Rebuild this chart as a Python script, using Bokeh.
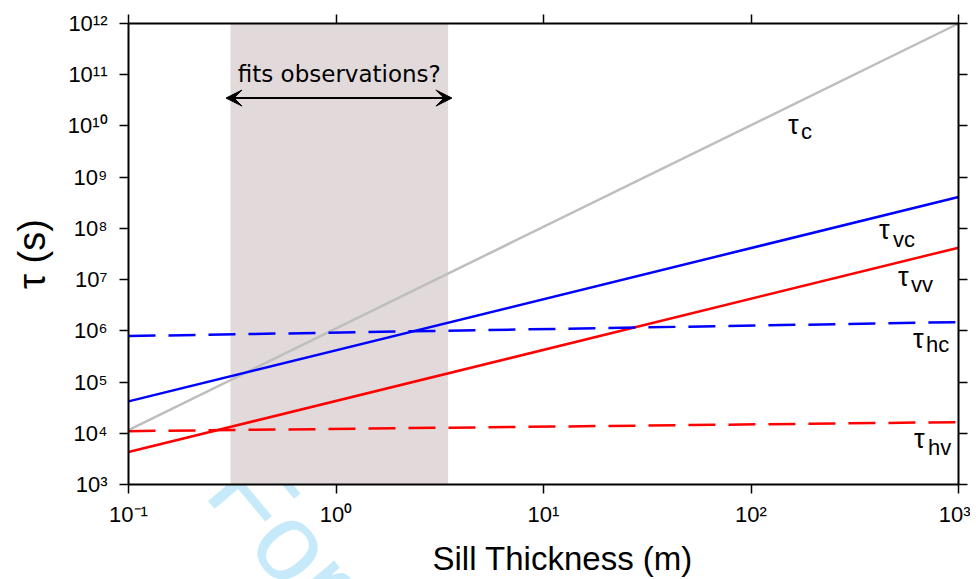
import numpy as np
from bokeh.plotting import figure
from bokeh.models import (LogAxis, FixedTicker, CustomJSTickFormatter, Label, Title,
                          BoxAnnotation, Arrow, VeeHead, Range1d)
from bokeh.embed import file_html
from bokeh.resources import INLINE

# ---------------- data ----------------
x_ends = [0.1, 1000.0]
tau_c = [1.15e4, 1.0e12]
tau_vc = [4.2e4, 4.1e8]
tau_vv = [4.3e3, 4.2e7]
tau_hc = [7.9e5, 1.48e6]
tau_hv = [1.1e4, 1.65e4]

x_ticks = [0.1, 1.0, 10.0, 100.0, 1000.0]
y_ticks = [1e3, 1e4, 1e5, 1e6, 1e7, 1e8, 1e9, 1e10, 1e11, 1e12]

shade_x = [0.31, 3.47]          # "fits observations?" band
arrow_x = [0.295, 3.62]
arrow_y = 3.5e10
note_y = 1.04e11

# curve labels: tau position and subscript position (data coords)
lab_names = ["c", "vc", "vv", "hc", "hv"]
lab_tau_x = [150.7, 413.9, 510.9, 603.5, 610.3]
lab_tau_y = [1.05e10, 9.3e7, 1.12e7, 6.9e5, 7.7e3]
lab_sub_x = [174.1, 483.5, 590.3, 697.2, 712.9]
lab_sub_y = [7.65e9, 6.2e7, 7.85e6, 5.3e5, 5.35e3]

FONT = "Liberation Sans"

p = figure(x_axis_type="log", y_axis_type="log",
           x_range=Range1d(x_ticks[0], x_ticks[-1]),
           y_range=Range1d(y_ticks[0], y_ticks[-1]),
           frame_width=830, frame_height=461,
           min_border_left=128, min_border_right=12,
           min_border_top=23, min_border_bottom=95,
           output_backend="svg", toolbar_location=None, tools="")
p.xgrid.visible = False
p.ygrid.visible = False
p.outline_line_color = None
p.background_fill_color = "white"
p.border_fill_color = "white"

sup_js = """
const s = {"0":"\\u2070","1":"\\u00b9","2":"\\u00b2","3":"\\u00b3","4":"\\u2074",
           "5":"\\u2075","6":"\\u2076","7":"\\u2077","8":"\\u2078","9":"\\u2079","-":"\\u207b"};
const e = Math.round(Math.log10(tick));
return "10" + String(e).split("").map(c => s[c]).join("");
"""

def style_axis(ax, ticks, labels=True):
    ax.level = "overlay"
    ax.ticker = FixedTicker(ticks=ticks)
    ax.minor_tick_line_color = None
    ax.major_tick_in = 0
    ax.major_tick_out = 9
    ax.major_tick_line_width = 1.5
    ax.major_tick_line_color = "black"
    ax.axis_line_width = 2
    ax.axis_line_color = "black"
    if labels:
        ax.formatter = CustomJSTickFormatter(code=sup_js)
        ax.major_label_text_font = FONT
        ax.major_label_text_font_size = "22px"
        ax.major_label_text_color = "black"
    else:
        ax.formatter = CustomJSTickFormatter(code="return '';")
        ax.major_label_text_font_size = "0px"

style_axis(p.xaxis[0], x_ticks)
style_axis(p.yaxis[0], y_ticks)
p.xaxis[0].major_label_standoff = 8
p.yaxis[0].major_label_standoff = 12

p.yaxis[0].axis_label = "τ (s)"
p.yaxis[0].axis_label_text_font = FONT
p.yaxis[0].axis_label_text_font_size = "38px"
p.yaxis[0].axis_label_text_font_style = "normal"
p.yaxis[0].axis_label_text_color = "black"
p.yaxis[0].axis_label_standoff = 12

top = LogAxis()
right = LogAxis()
style_axis(top, x_ticks, labels=False)
style_axis(right, y_ticks, labels=False)
p.add_layout(top, "above")
p.add_layout(right, "right")

# x axis title (placed as in the original)
p.add_layout(Title(text="Sill Thickness (m)", align="left", offset=304,
                   text_font=FONT, text_font_size="33px", text_font_style="normal",
                   text_color="black", standoff=16), "below")

# watermark, drawn outside the frame only
wm = Label(x=0.3148, y=1991, text="For Peer Review", angle=-50, angle_units="deg",
           text_font=FONT, text_font_size="110px", text_color="#c6eaf9",
           text_baseline="alphabetic", text_align="left", level="guide")
p.add_layout(wm, "below")

cover = BoxAnnotation(fill_color="white", fill_alpha=1.0, line_color=None, level="annotation")
p.add_layout(cover)
shade = BoxAnnotation(left=shade_x[0], right=shade_x[1], fill_color="#e1d9da",
                      fill_alpha=1.0, line_color=None, level="annotation")
p.add_layout(shade)

# curves
lw = 2.5
p.line(x_ends, tau_c, line_color="#bebebe", line_width=lw, level="overlay")
p.line(x_ends, tau_vc, line_color="#0000ff", line_width=lw, level="overlay")
p.line(x_ends, tau_vv, line_color="#ff0000", line_width=lw, level="overlay")
p.line(x_ends, tau_hc, line_color="#0000ff", line_width=lw, line_dash="27 13", level="overlay")
p.line(x_ends, tau_hv, line_color="#ff0000", line_width=lw, line_dash="27 13", level="overlay")

# arrow + note
p.add_layout(Arrow(start=VeeHead(size=16, fill_color="black", line_color="black"),
                   end=VeeHead(size=16, fill_color="black", line_color="black"),
                   x_start=arrow_x[0], x_end=arrow_x[1], y_start=arrow_y, y_end=arrow_y,
                   line_color="black", line_width=2, level="overlay"))
p.add_layout(Label(x=float(np.sqrt(shade_x[0] * shade_x[1])), y=note_y,
                   text="fits observations?", text_font="DejaVu Sans",
                   text_font_size="23px", text_align="center",
                   text_baseline="alphabetic", text_color="black", level="overlay"))

for name, tx, ty, sx, sy in zip(lab_names, lab_tau_x, lab_tau_y, lab_sub_x, lab_sub_y):
    p.add_layout(Label(x=tx, y=ty, text="τ", text_font=FONT, text_font_size="27px",
                       text_baseline="alphabetic", text_color="black", level="overlay"))
    p.add_layout(Label(x=sx, y=sy, text=name, text_font=FONT, text_font_size="22px",
                       text_baseline="alphabetic", text_color="black", level="overlay"))

open("out.html", "w").write(file_html(p, INLINE))
